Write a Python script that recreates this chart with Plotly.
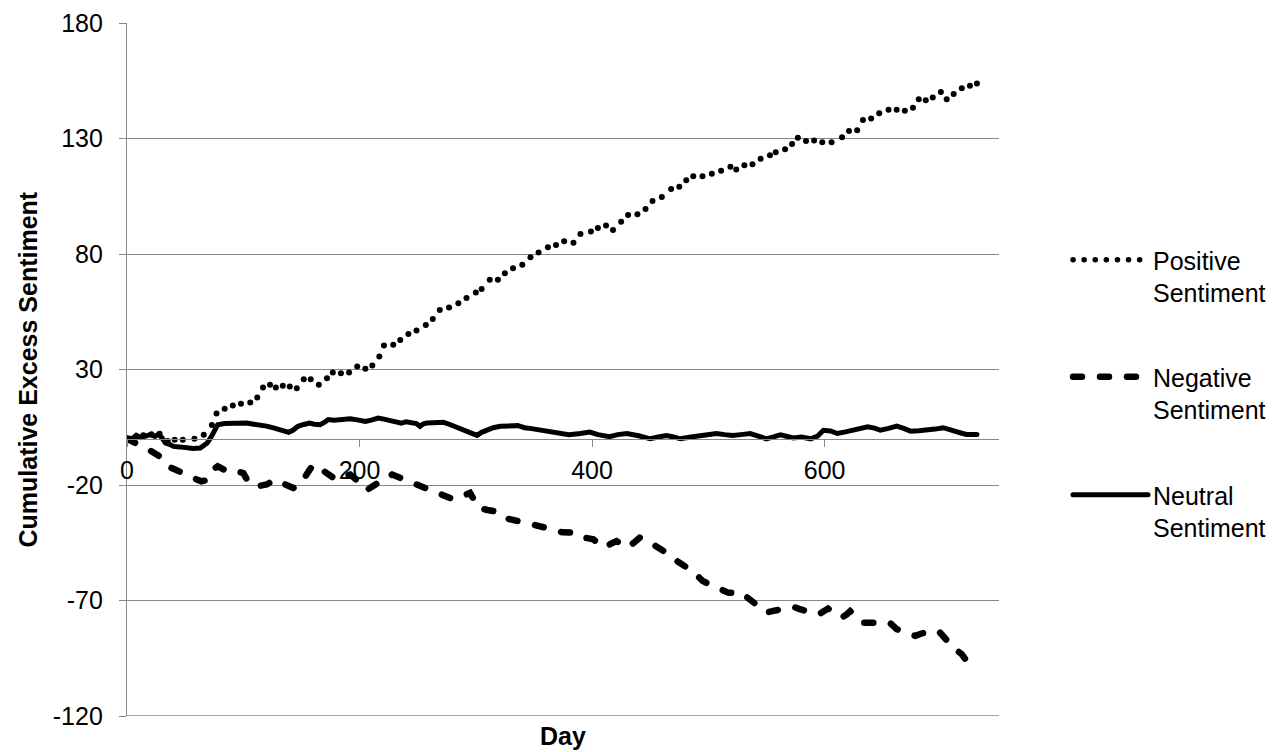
import plotly.graph_objects as go

# ---- data ----
pos_day = [0, 7, 14, 21, 28, 35, 41, 48, 58, 66, 73, 77, 84, 91, 98, 106, 112, 117, 123, 128,
           134, 140, 146, 152, 158, 165, 172, 177, 184, 191, 198, 205, 211, 217, 221, 229, 235,
           242, 249, 257, 263, 269, 277, 285, 292, 300, 305, 312, 319, 325, 332, 340, 347, 354,
           362, 369, 376, 384, 390, 399, 405, 412, 418, 425, 431, 439, 446, 452, 460, 468, 475,
           481, 487, 495, 503, 511, 519, 524, 531, 538, 545, 553, 558, 566, 572, 577, 584, 591,
           598, 606, 615, 621, 628, 633, 640, 647, 655, 662, 669, 676, 681, 687, 693, 700, 705,
           711, 718, 725, 731]
pos_val = [0, 0.8, 1.5, 2, 2.2, -1, -0.4, -0.4, 0, 1.8, 6, 11, 13, 14.4, 15.2, 15.7, 17.9, 22.2,
           23.4, 22.2, 23, 22.6, 21.9, 25.8, 25.8, 23.4, 26.2, 28.7, 28.4, 28.7, 31.3, 30.3, 31.7,
           35.6, 40.4, 40.7, 42.8, 45.4, 46.9, 49.3, 51.9, 55.8, 56.8, 58.7, 60.9, 63.3, 64.8, 68.8,
           68.8, 71.7, 73.8, 75.3, 78.6, 80.7, 82.9, 83.9, 85.5, 84.9, 88.7, 89.7, 91.3, 92.3, 90.4,
           94, 96.9, 97.2, 99.5, 102.9, 104.7, 108.1, 109.1, 111.9, 113.7, 113.7, 114.7, 116, 117.8,
           116.6, 118.4, 118.9, 121.2, 122.7, 124.1, 125.3, 127.6, 130.3, 128.9, 129.1, 128.4, 128.4,
           130.5, 133.2, 133.6, 138, 138.7, 140.9, 142.4, 142.4, 142, 143.3, 147, 146.6, 147.8,
           150.1, 147, 149.3, 151.8, 152.8, 153.8]

neg_day = [0, 5, 10, 13, 18, 23, 28, 32, 35, 40, 45, 51, 57, 64, 68, 72, 78, 83, 88, 94, 100, 103,
           106, 113, 120, 127, 133, 138, 143, 147, 150, 155, 160, 165, 169, 175, 180, 186, 192, 199,
           206, 210, 215, 222, 228, 233, 238, 244, 250, 256, 261, 267, 272, 277, 281, 288, 295, 298,
           302, 310, 317, 321, 324, 331, 338, 343, 347, 354, 361, 367, 375, 384, 391, 396, 401, 406,
           410, 416, 421, 426, 430, 436, 441, 447, 453, 459, 464, 469, 473, 480, 486, 491, 495, 501,
           507, 512, 517, 523, 529, 533, 537, 543, 550, 556, 562, 568, 573, 578, 583, 589, 595, 599,
           603, 609, 615, 619, 622, 628, 633, 638, 642, 649, 656, 659, 662, 670, 678, 684, 689, 694,
           698, 702, 705, 711, 718, 722, 725, 727]
neg_val = [0, -1, -2.5, -3.2, -4.5, -6, -7.6, -10, -11.9, -13, -14.5, -15.5, -17, -18.4, -18, -14,
           -11.9, -13, -14.5, -14, -14.8, -17.5, -19.8, -20.5, -19.8, -17.7, -19, -20.5, -21.3,
           -20.5, -19.1, -15, -11.2, -12.5, -14.1, -16.5, -17.7, -16.5, -15.5, -18.5, -22.3, -21,
           -19.1, -17, -15.5, -16.5, -17.7, -19, -20.6, -21.8, -22.7, -24, -24.9, -25.7, -26.3, -25,
           -23.4, -26, -29.9, -30.8, -31.4, -32.8, -34.3, -35, -35.7, -36.5, -37.1, -37.8, -38.6,
           -39.7, -40.5, -40.6, -42.8, -43, -43.5, -45.5, -47.1, -45.5, -44.3, -45.7, -47.1, -45,
           -42.8, -44, -45.7, -47.5, -49.3, -51, -52.9, -55, -57.2, -59.5, -61.5, -63, -64.4, -65.5,
           -66.6, -66.8, -66.6, -68.5, -70.2, -72.8, -75.2, -74.5, -73.8, -73.2, -72.7, -73.6, -74.6,
           -75.3, -76, -74.8, -73.5, -75.5, -77.4, -76, -74.6, -77, -79.6, -79.6, -79.6, -79.4,
           -79.6, -81, -82.4, -84, -85.3, -84.2, -83.4, -83.3, -83.2, -85.5, -87.9, -90.5, -93.3,
           -96, -99, -99.5]

neu_day = [0, 5, 8, 12, 16, 20, 24, 27, 30, 33, 37, 40, 45, 51, 57, 63, 66, 69, 72, 74, 78, 84, 91,
           97, 103, 109, 114, 120, 126, 133, 139, 143, 147, 152, 157, 161, 166, 170, 173, 178, 183,
           188, 192, 198, 205, 210, 216, 221, 226, 231, 236, 240, 245, 249, 252, 255, 258, 265, 272,
           276, 281, 287, 292, 297, 301, 305, 310, 315, 321, 328, 336, 339, 342, 348, 355, 362, 372,
           380, 390, 398, 405, 415, 422, 430, 440, 450, 457, 464, 470, 476, 485, 493, 500, 507, 514,
           521, 528, 536, 543, 550, 556, 562, 568, 573, 580, 588, 594, 599, 605, 611, 618, 625, 631,
           637, 643, 648, 655, 662, 668, 674, 681, 688, 695, 702, 708, 714, 718, 722, 727, 731]
neu_val = [0.5, 0, 1.5, 0.5, 1.2, 1.8, 1, 2, 0.5, -1.8, -2.5, -3.3, -3.5, -4, -4.2, -4, -3, -1.8,
           0.5, 2.6, 6.1, 6.6, 6.8, 7, 6.8, 6.3, 6.1, 5.5, 4.7, 3.6, 2.8, 3.8, 5.4, 6.2, 6.8, 6.3,
           6.1, 7.2, 8.3, 8, 8.3, 8.5, 8.7, 8.2, 7.5, 8.1, 9, 8.5, 7.8, 7.3, 6.8, 7.4, 7.2, 6.6, 5.4,
           6.5, 6.8, 7, 7.2, 6.5, 5.4, 4.3, 3.2, 2.3, 1.5, 2.8, 3.9, 4.8, 5.4, 5.6, 5.7, 5.3, 4.8,
           4.4, 3.9, 3.3, 2.3, 1.8, 2.3, 2.9, 1.8, 0.9, 1.8, 2.3, 1.3, 0, 0.8, 1.4, 0.8, 0, 0.8, 1.2,
           1.8, 2.3, 1.8, 1.4, 1.8, 2.3, 1.2, 0, 0.8, 1.7, 1, 0.4, 0.8, 0, 1.2, 3.7, 3.4, 2.3, 3, 4,
           4.6, 5.2, 4.6, 3.7, 4.5, 5.5, 4.5, 3.3, 3.5, 3.7, 4.2, 4.8, 4.1, 3.3, 2.4, 1.9, 1.8, 1.9]

x_ticks = [0, 200, 400, 600]
y_ticks = [-120, -70, -20, 30, 80, 130, 180]
names = ["Positive<br>Sentiment", "Negative<br>Sentiment", "Neutral<br>Sentiment"]

FONT = "Liberation Sans, Arial, sans-serif"
GRID = "#888888"

fig = go.Figure()

# positive: drawn as dots
fig.add_trace(go.Scatter(x=pos_day, y=pos_val, mode="markers",
                         marker=dict(size=6, color="black", line=dict(width=0)),
                         showlegend=False, hoverinfo="skip"))
# legend entry for positive (dotted line)
fig.add_trace(go.Scatter(x=[None], y=[None], mode="lines", name=names[0],
                         line=dict(color="black", width=5.5, dash="0.1px,11px"),
                         legend="legend"))
fig.add_trace(go.Scatter(x=neg_day, y=neg_val, mode="lines", name=names[1],
                         line=dict(color="black", width=6.5, dash="9px,18px"),
                         legend="legend2"))
fig.add_trace(go.Scatter(x=neu_day, y=neu_val, mode="lines", name=names[2],
                         line=dict(color="black", width=5),
                         legend="legend3"))

L, R, T, B = 127, 276, 23, 36
PW, PH = 1275 - L - R, 752 - T - B

def px_x(px):
    return (px - L) / PW

def px_y(py):
    return (752 - B - py) / PH

leg_common = dict(xanchor="left", yanchor="top", bgcolor="rgba(0,0,0,0)",
                  font=dict(family=FONT, size=25, color="black"),
                  itemwidth=75, valign="top", borderwidth=0)

fig.update_layout(
    width=1275, height=752,
    margin=dict(l=L, r=R, t=T, b=B, autoexpand=False),
    paper_bgcolor="white", plot_bgcolor="white",
    font=dict(family=FONT, size=25, color="black"),
    showlegend=True,
    legend=dict(x=px_x(1068), y=px_y(237), **leg_common),
    legend2=dict(x=px_x(1068), y=px_y(354), **leg_common),
    legend3=dict(x=px_x(1068), y=px_y(472), **leg_common),
    xaxis=dict(range=[0, 750], tickvals=x_ticks, ticktext=[str(v) for v in x_ticks],
               showgrid=False, zeroline=False, showline=True, linecolor=GRID, linewidth=1.3,
               ticks="outside", ticklen=7, tickcolor=GRID, tickwidth=1.3,
               anchor="free", position=(0 - y_ticks[0]) / (y_ticks[-1] - y_ticks[0]),
               tickfont=dict(family=FONT, size=25, color="black"), ticklabelstandoff=2),
    yaxis=dict(range=[-120, 180], tickvals=y_ticks, ticktext=[str(v) for v in y_ticks],
               showgrid=True, gridcolor=GRID, gridwidth=1.3, zeroline=False,
               showline=True, linecolor=GRID, linewidth=1.3,
               ticks="outside", ticklen=7, tickcolor=GRID, tickwidth=1.3,
               tickfont=dict(family=FONT, size=25, color="black"), ticklabelstandoff=11),
    shapes=[dict(type="line", xref="paper", yref="y", x0=0, x1=1,
                 y0=y_ticks[0], y1=y_ticks[0], line=dict(color=GRID, width=1.3), layer="below")],
    annotations=[
        dict(text="<b>Day</b>", xref="paper", yref="paper", x=0.5, y=px_y(736),
             xanchor="center", yanchor="middle", showarrow=False,
             font=dict(family=FONT, size=25, color="black")),
        dict(text="<b>Cumulative Excess Sentiment</b>", xref="paper", yref="paper",
             x=px_x(27), y=0.5, textangle=-90, xanchor="center", yanchor="middle",
             showarrow=False, font=dict(family=FONT, size=25, color="black")),
    ],
)

post = "document.querySelectorAll('path.js-line').forEach(function(p){p.style.strokeLinecap='round';});"
fig.write_html("out.html", post_script=post)
